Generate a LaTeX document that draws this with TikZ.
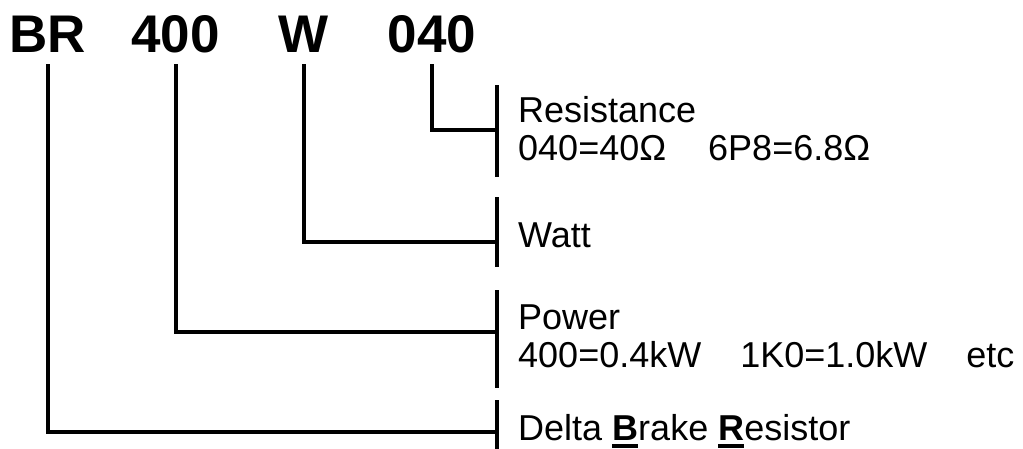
\documentclass[tikz,border=0pt]{standalone}
\usepackage{fontspec}
\setmainfont{Liberation Sans}
\newcommand{\ulbold}[1]{\setbox0\hbox{\bfseries #1}\rlap{\rule[-8pt]{\wd0}{4pt}}\box0}
\begin{document}
\begin{tikzpicture}[x=1pt,y=-1pt,
  code/.style={font=\fontsize{53}{60}\selectfont\bfseries, inner sep=0pt, anchor=base},
  lab/.style={font=\fontsize{36}{42}\selectfont, inner sep=0pt, anchor=base west},
  conn/.style={line width=4pt, line join=miter},
  bar/.style={line width=4pt}]
\useasboundingbox (0,0) rectangle (1023,448);
% code letters
\node[code] (BR)  at (48,52)  {BR};
\node[code] (P)   at (175.5,52) {400};
\node[code] (W)   at (304,52) {W};
\node[code] (R)   at (432,52) {040};
% bars
\coordinate (rbarT) at (497,85);  \coordinate (rbarB) at (497,177); \coordinate (rjoin) at (497,130);
\coordinate (wbarT) at (497,197); \coordinate (wbarB) at (497,267); \coordinate (wjoin) at (497,242);
\coordinate (pbarT) at (497,290); \coordinate (pbarB) at (497,388); \coordinate (pjoin) at (497,332);
\coordinate (dbarT) at (497,400); \coordinate (dbarB) at (497,452); \coordinate (djoin) at (497,432);
\draw[bar] (rbarT) -- (rbarB);
\draw[bar] (wbarT) -- (wbarB);
\draw[bar] (pbarT) -- (pbarB);
\draw[bar] (dbarT) -- (dbarB);
% connectors
\draw[conn] ([yshift=-12pt]R.base)  |- (rjoin);
\draw[conn] ([yshift=-12pt]W.base)  |- (wjoin);
\draw[conn] ([yshift=-12pt]P.base)  |- (pjoin);
\draw[conn] ([yshift=-12pt]BR.base) |- (djoin);
% labels
\node[lab] (res)  at (518,122) {Resistance};
\node[lab] (resv) at (518,160) {040=40Ω\hspace{42pt}6P8=6.8Ω};
\node[lab] (watt) at (518,247) {Watt};
\node[lab] (pow)  at (518,329) {Power};
\node[lab] (powv) at (518,367) {400=0.4kW\hspace{39pt}1K0=1.0kW\hspace{39pt}etc};
\node[lab] (dbr)  at (518,440) {Delta \ulbold{B}rake \ulbold{R}esistor};
\end{tikzpicture}
\end{document}
